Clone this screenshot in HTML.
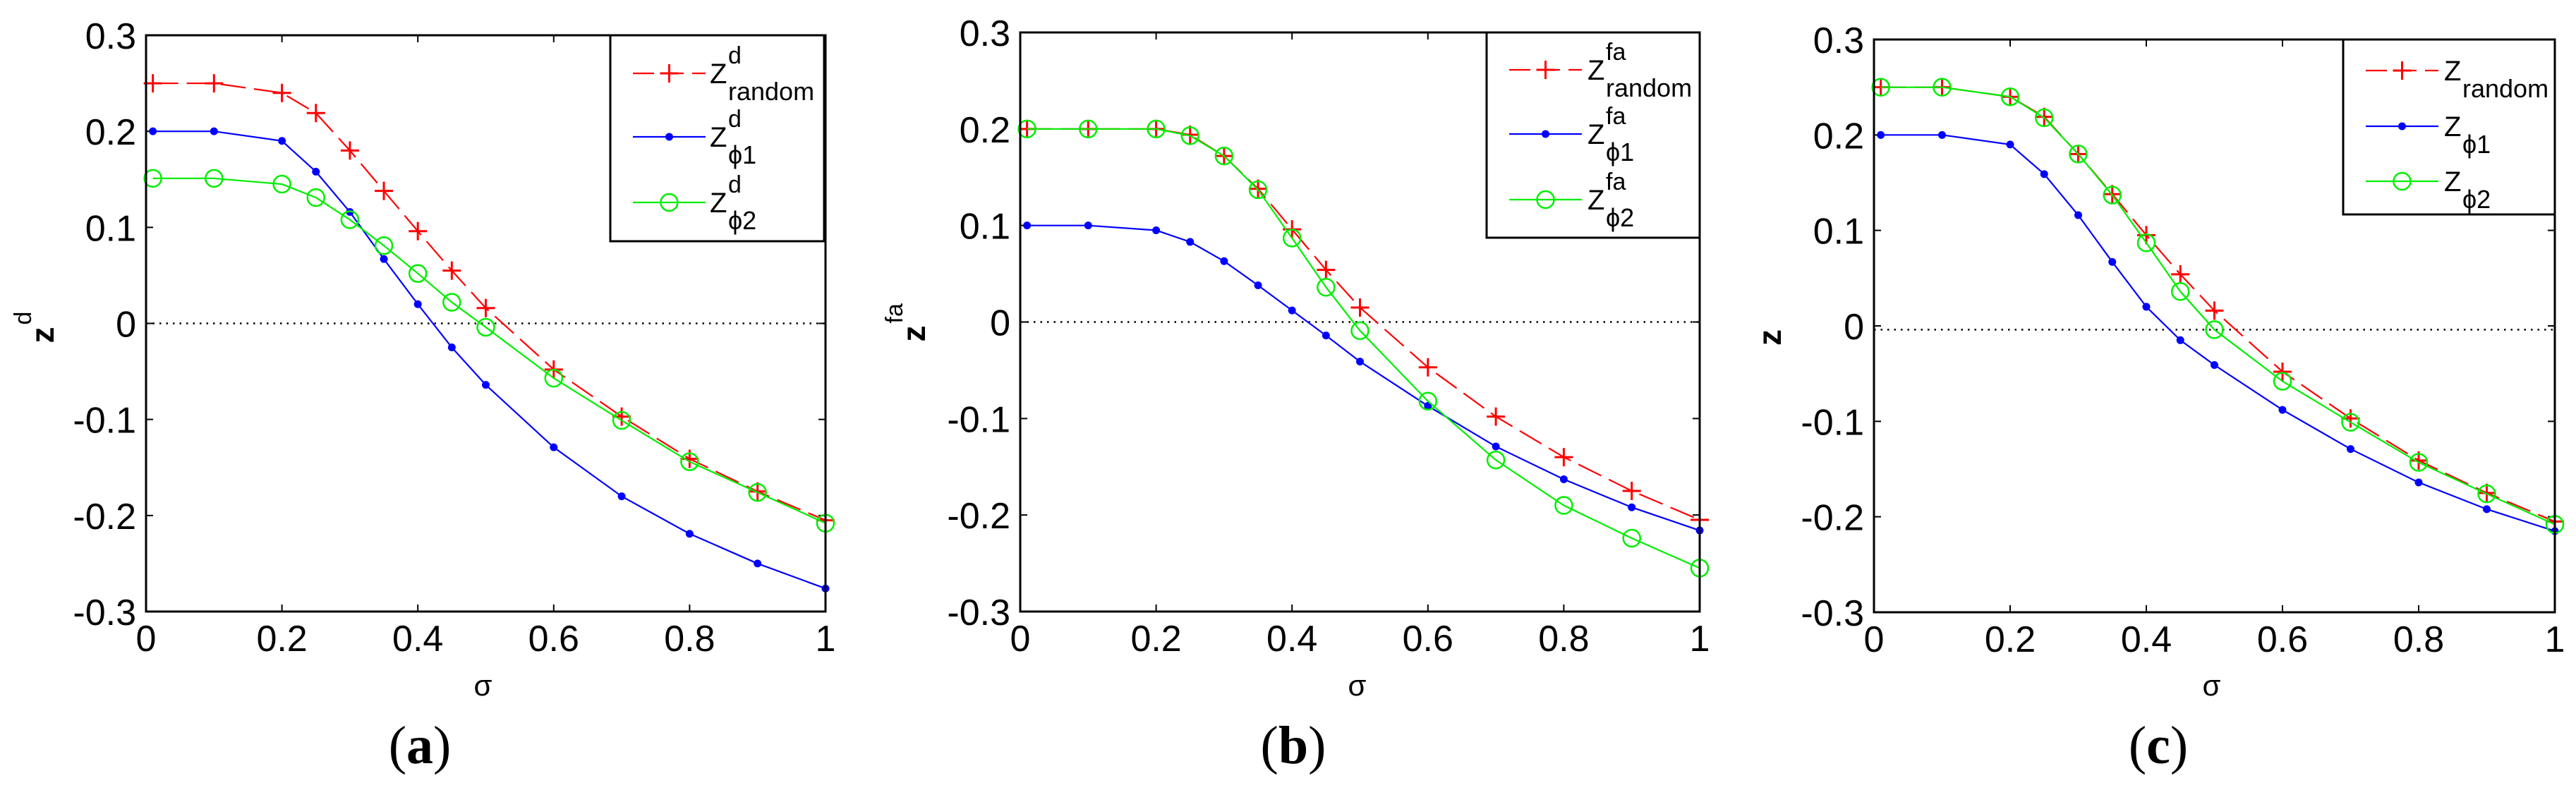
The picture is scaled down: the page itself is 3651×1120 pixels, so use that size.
<!DOCTYPE html>
<html><head><meta charset="utf-8"><style>
html,body{margin:0;padding:0;background:#fff;}
svg{display:block;font-family:"Liberation Sans",sans-serif;}
</style></head><body>
<svg id="fig" width="3651" height="1120" viewBox="0 0 3651 1120"></svg>
<script>
const xValues=[0.01,0.1,0.2,0.25,0.3,0.35,0.4,0.45,0.5,0.6,0.7,0.8,0.9,1.0];
const xTicks=[0,0.2,0.4,0.6,0.8,1];
const xTickLabels=["0","0.2","0.4","0.6","0.8","1"];
const yTicks=[0.3,0.2,0.1,0,-0.1,-0.2,-0.3];
const yTickLabels=["0.3","0.2","0.1","0","-0.1","-0.2","-0.3"];
const aRandom=[0.25,0.25,0.24,0.219,0.18,0.138,0.096,0.055,0.016,-0.048,-0.097,-0.141,-0.175,-0.205];
const aPhi1=[0.2,0.2,0.19,0.158,0.116,0.067,0.02,-0.025,-0.064,-0.129,-0.18,-0.219,-0.25,-0.276];
const aPhi2=[0.151,0.151,0.145,0.131,0.108,0.081,0.052,0.022,-0.004,-0.057,-0.101,-0.144,-0.176,-0.208];
const bRandom=[0.2,0.2,0.2,0.194,0.172,0.138,0.096,0.054,0.015,-0.047,-0.098,-0.14,-0.175,-0.205];
const bPhi1=[0.1,0.1,0.095,0.083,0.063,0.038,0.012,-0.014,-0.041,-0.087,-0.129,-0.163,-0.192,-0.216];
const bPhi2=[0.2,0.2,0.2,0.193,0.172,0.137,0.087,0.036,-0.009,-0.082,-0.143,-0.19,-0.224,-0.255];
const cRandom=[0.25,0.25,0.24,0.219,0.18,0.138,0.095,0.054,0.016,-0.048,-0.097,-0.141,-0.175,-0.205];
const cPhi1=[0.2,0.2,0.19,0.159,0.116,0.067,0.02,-0.015,-0.041,-0.088,-0.129,-0.164,-0.192,-0.215];
const cPhi2=[0.25,0.25,0.24,0.218,0.18,0.137,0.087,0.036,-0.004,-0.058,-0.101,-0.143,-0.176,-0.208];

const NS="http://www.w3.org/2000/svg";
const svg=document.getElementById('fig');
function mk(tag,attrs,parent,text){const e=document.createElementNS(NS,tag);for(const k in attrs)e.setAttribute(k,attrs[k]);if(text!==undefined)e.textContent=text;(parent||svg).appendChild(e);return e;}

const panels=[
 {id:'a',L:207,R:1170,T:50,B:867,sup:'d',zero:0,series:[aRandom,aPhi1,aPhi2],leg:{x1:865,x2:1168,y1:50,y2:342,rows:[104,194,287],lx1:897,lx2:1000,tx:1006},cap:595,ylx:62},
 {id:'b',L:1446,R:2409,T:46,B:867,sup:'fa',zero:0,series:[bRandom,bPhi1,bPhi2],leg:{x1:2107,x2:2409,y1:46,y2:337,rows:[99,190,283],lx1:2139,lx2:2242,tx:2250},cap:1833,ylx:1297},
 {id:'c',L:2656,R:3621,T:56,B:868,sup:'',zero:-0.004,series:[cRandom,cPhi1,cPhi2],leg:{x1:3321,x2:3621,y1:56,y2:304,rows:[100,179,257],lx1:3353,lx2:3456,tx:3464},cap:3059,ylx:2510}
];
const colors=['#ff0000','#0000ff','#00ee00'];
const subs=['random','ϕ1','ϕ2'];

function plus(g,x,y){mk('path',{d:`M${x-13} ${y}H${x+13}M${x} ${y-13}V${y+13}`,stroke:colors[0],'stroke-width':3,fill:'none'},g);}
function dot(g,x,y){mk('circle',{cx:x,cy:y,r:5.5,fill:colors[1]},g);}
function circ(g,x,y){mk('circle',{cx:x,cy:y,r:12,fill:'none',stroke:colors[2],'stroke-width':2.5},g);}

panels.forEach(p=>{
 const g=mk('g',{});
 
 
 const sx=v=>p.L+(p.R-p.L)*v;
 const sy=v=>p.T+(p.B-p.T)*(0.3-v)/0.6;
 // ticks
 xTicks.forEach((t,i)=>{
  const x=sx(t);
  mk('path',{d:`M${x} ${p.B}V${p.B-10}M${x} ${p.T}V${p.T+10}`,stroke:'#000','stroke-width':2},g);
  const tl=mk('text',{x:x,y:p.B+56,'font-size':52,'text-anchor':'middle',fill:'#000'},g,xTickLabels[i]);
  
  
 });
 yTicks.forEach((t,i)=>{
  const y=sy(t);
  mk('path',{d:`M${p.L} ${y}H${p.L+10}M${p.R} ${y}H${p.R-10}`,stroke:'#000','stroke-width':2},g);
  const tl=mk('text',{x:p.L-14,y:y+19,'font-size':52,'text-anchor':'end',fill:'#000'},g,yTickLabels[i]);
  
  
 });
 // zero line
 const zl=mk('line',{x1:p.L,x2:p.R,y1:sy(p.zero),y2:sy(p.zero),stroke:'#000','stroke-width':2.5,'stroke-dasharray':'2.5,7'},g);
 
 
 // series
 p.series.forEach((vals,si)=>{
  const sg=mk('g',{},g);
  
  
  const pts=vals.map((v,i)=>sx(xValues[i])+','+sy(v)).join(' ');
  const attrs={points:pts,fill:'none',stroke:colors[si],'stroke-width':2.2};
  if(si===0)attrs['stroke-dasharray']='36,12';
  mk('polyline',attrs,sg);
  vals.forEach((v,i)=>{const x=sx(xValues[i]),y=sy(v);if(si===0)plus(sg,x,y);else if(si===1)dot(sg,x,y);else circ(sg,x,y);});
 });
 // frame
 const fr=mk('rect',{x:p.L,y:p.T,width:p.R-p.L,height:p.B-p.T,fill:'none',stroke:'#000','stroke-width':3},g);
 
 
 // legend
 const lg=mk('g',{},g);
 
 
 const L=p.leg;
 mk('rect',{x:L.x1,y:L.y1,width:L.x2-L.x1,height:L.y2-L.y1,fill:'#fff',stroke:'#000','stroke-width':3},lg);
 L.rows.forEach((ry,si)=>{
  const e=mk('g',{},lg);
  
  
  const a={x1:L.lx1,x2:L.lx2,y1:ry,y2:ry,stroke:colors[si],'stroke-width':2.2};
  if(si===0)a['stroke-dasharray']='30,12';
  mk('line',a,e);
  const mx=(L.lx1+L.lx2)/2;
  if(si===0)plus(e,mx,ry);else if(si===1)dot(e,mx,ry);else circ(e,mx,ry);
  mk('text',{x:L.tx,y:ry+14,'font-size':40,fill:'#000'},e,'Z');
  if(p.sup)mk('text',{x:L.tx+26,y:ry-14,'font-size':34,fill:'#000'},e,p.sup);
  mk('text',{x:L.tx+26,y:ry+38,'font-size':36,fill:'#000'},e,subs[si]);
 });
 // labels
 const xl=mk('text',{x:(p.L+p.R)/2-4,y:986,'font-size':42,'text-anchor':'middle',fill:'#000'},g,'σ');
 
 
 const yg=mk('g',{transform:`translate(${p.ylx},${sy(0)+8}) rotate(-90)`},g);
 
 
 mk('text',{x:-20,y:14,'font-size':46,'font-weight':'bold',fill:'#000'},yg,'z');
 if(p.sup)mk('text',{x:6,y:-18,'font-size':34,fill:'#000'},yg,p.sup);
 const cap=mk('text',{x:p.cap,y:1082,'font-size':76,'text-anchor':'middle','font-family':'"Liberation Serif",serif',fill:'#000'},g);
 
 
 mk('tspan',{},cap,'(');
 mk('tspan',{'font-weight':'bold'},cap,p.id);
 mk('tspan',{},cap,')');
});
</script>
</body></html>
